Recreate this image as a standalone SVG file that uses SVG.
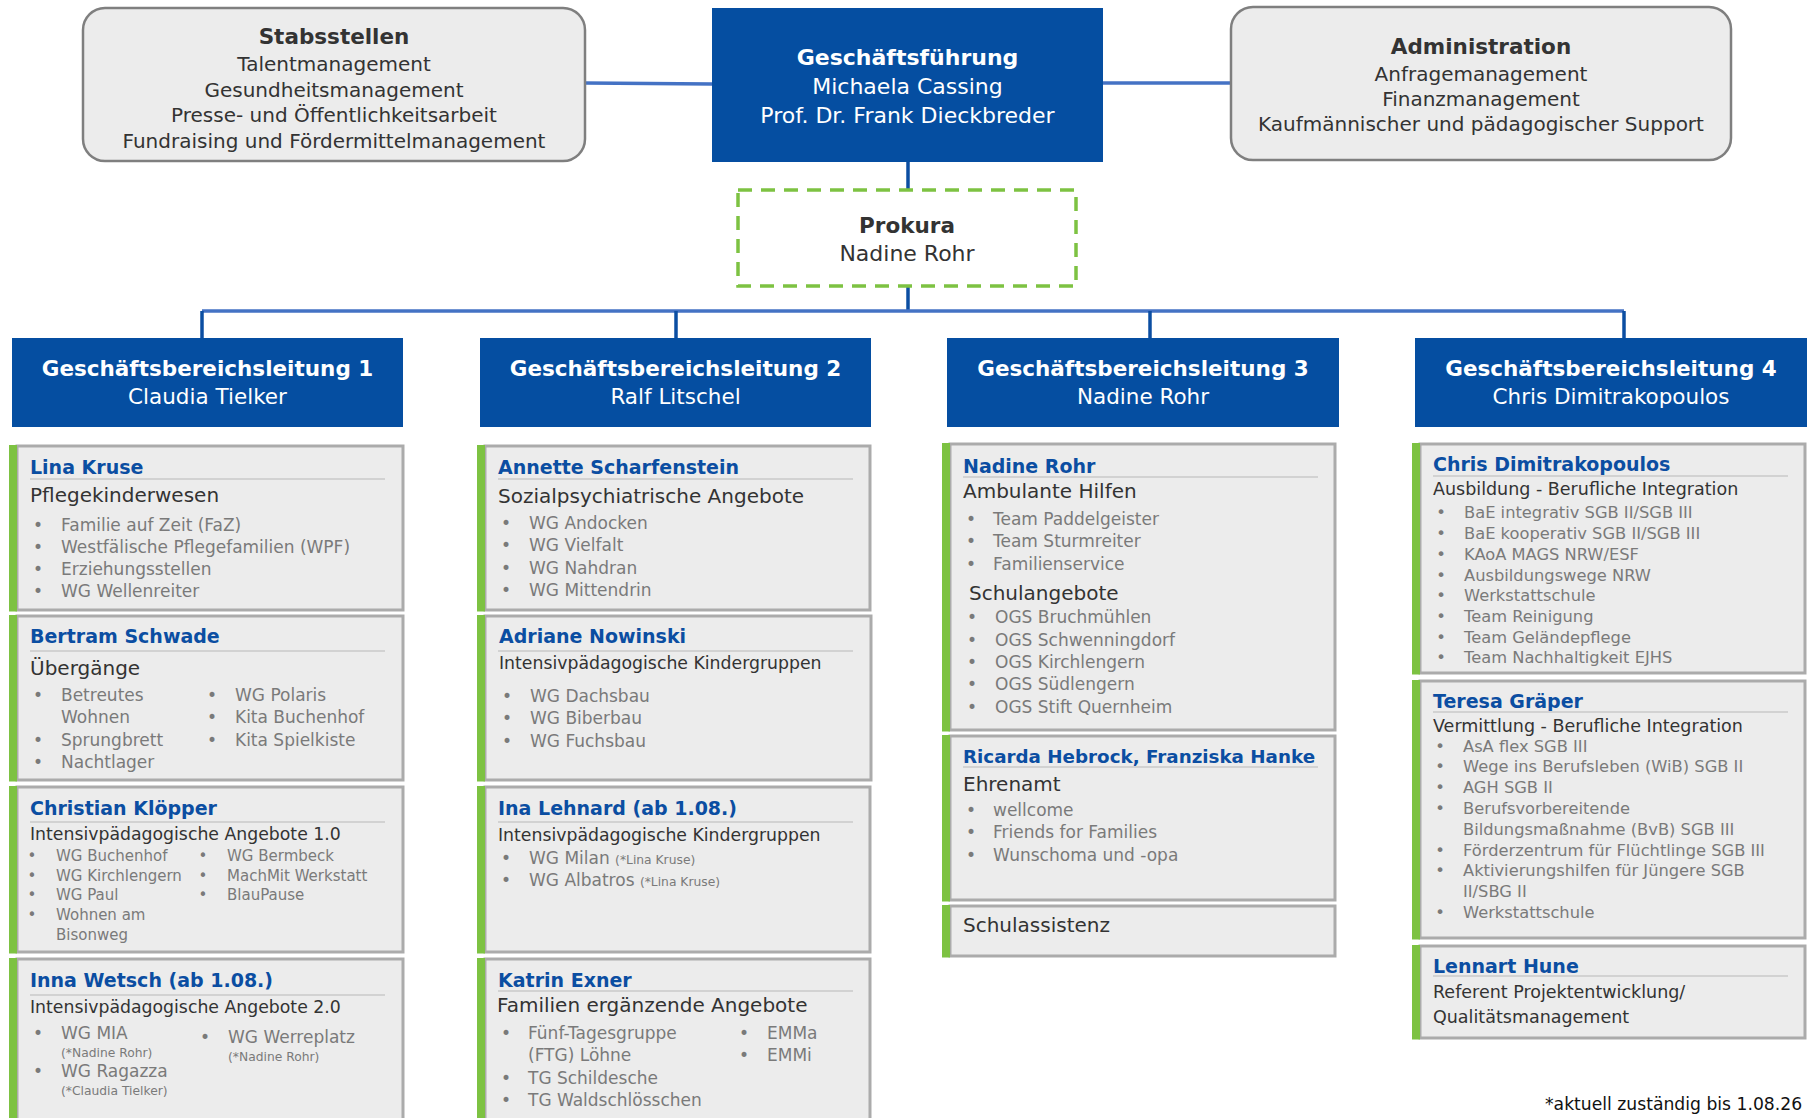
<svg xmlns="http://www.w3.org/2000/svg" width="1807" height="1118" viewBox="0 0 1807 1118">
<style>
text{font-family:"DejaVu Sans","Liberation Sans",sans-serif}
.hd{font-weight:bold;font-size:21.5px;fill:#333;text-anchor:middle}
.ln{font-size:20px;fill:#333;text-anchor:middle}
.gft{font-weight:bold;font-size:22px;fill:#fff;text-anchor:middle}
.gfl{font-size:22px;fill:#fff;text-anchor:middle}
.gbt{font-weight:bold;font-size:21.5px;fill:#fff;text-anchor:middle}
.gbn{font-size:21.5px;fill:#fff;text-anchor:middle}
.nm{font-weight:bold;font-size:19px;fill:#0b4ea2}
.sub{font-size:20px;fill:#333}
.subs{font-size:17.3px;fill:#333}
.bl{font-size:17px;fill:#7a7a7a}
.bls{font-size:15px;fill:#7a7a7a}
.bl4{font-size:16.3px;fill:#7a7a7a}
.dot{text-anchor:middle}
.note{font-size:12.3px;fill:#7a7a7a}
.foot{font-size:17.2px;fill:#111}
.box{fill:#ececec;stroke:#7f7f7f;stroke-width:2.5}
.blue{fill:#054ea1}
.card{fill:#ececec;stroke:#ababab;stroke-width:3}
.bar{fill:#7dc242}
.sep{stroke:#d2d2d2;stroke-width:2}
.ch{stroke:#4472c4;stroke-width:3.5;fill:none}
.cv{stroke:#0b4ea2;stroke-width:3.5;fill:none}
</style>

<g id="connectors">
<line class="ch" x1="585" y1="83" x2="712" y2="84"/>
<line class="ch" x1="1103" y1="83" x2="1231" y2="83"/>
<line class="cv" x1="908" y1="162" x2="908" y2="190"/>
<line class="cv" x1="908" y1="286" x2="908" y2="311"/>
<line class="ch" x1="202" y1="311" x2="1624" y2="311"/>
<line class="cv" x1="202" y1="311" x2="202" y2="338"/>
<line class="cv" x1="676" y1="311" x2="676" y2="338"/>
<line class="cv" x1="1150" y1="311" x2="1150" y2="338"/>
<line class="cv" x1="1624" y1="311" x2="1624" y2="338"/>
</g>

<g id="stabsstellen">
<rect class="box" x="83" y="8" width="502" height="153" rx="22"/>
<text class="hd" x="334" y="44">Stabsstellen</text>
<text class="ln" x="334" y="71">Talentmanagement</text>
<text class="ln" x="334" y="97">Gesundheitsmanagement</text>
<text class="ln" x="334" y="122">Presse- und Öffentlichkeitsarbeit</text>
<text class="ln" x="334" y="148">Fundraising und Fördermittelmanagement</text>
</g>

<g id="geschaeftsfuehrung">
<rect class="blue" x="712" y="8" width="391" height="154"/>
<text class="gft" x="907.5" y="65">Geschäftsführung</text>
<text class="gfl" x="907.5" y="94">Michaela Cassing</text>
<text class="gfl" x="907.5" y="123">Prof. Dr. Frank Dieckbreder</text>
</g>

<g id="administration">
<rect class="box" x="1231" y="7" width="500" height="153" rx="22"/>
<text class="hd" x="1481" y="54">Administration</text>
<text class="ln" x="1481" y="81">Anfragemanagement</text>
<text class="ln" x="1481" y="106">Finanzmanagement</text>
<text class="ln" x="1481" y="131">Kaufmännischer und pädagogischer Support</text>
</g>

<g id="prokura">
<rect x="738" y="190" width="338" height="96" fill="#fff" stroke="#7dc242" stroke-width="3.5" stroke-dasharray="14 9"/>
<text class="hd" x="907" y="233">Prokura</text>
<text class="ln" x="907" y="261" style="font-size:22px">Nadine Rohr</text>
</g>

<g id="gbl1">
<rect class="blue" x="12" y="338" width="391" height="89"/>
<text class="gbt" x="207.5" y="376">Geschäftsbereichsleitung 1</text>
<text class="gbn" x="207.5" y="404">Claudia Tielker</text>
</g>
<g id="gbl2">
<rect class="blue" x="480" y="338" width="391" height="89"/>
<text class="gbt" x="675.5" y="376">Geschäftsbereichsleitung 2</text>
<text class="gbn" x="675.5" y="404">Ralf Litschel</text>
</g>
<g id="gbl3">
<rect class="blue" x="947" y="338" width="392" height="89"/>
<text class="gbt" x="1143" y="376">Geschäftsbereichsleitung 3</text>
<text class="gbn" x="1143" y="404">Nadine Rohr</text>
</g>
<g id="gbl4">
<rect class="blue" x="1415" y="338" width="392" height="89"/>
<text class="gbt" x="1611" y="376">Geschäftsbereichsleitung 4</text>
<text class="gbn" x="1611" y="404">Chris Dimitrakopoulos</text>
</g>

<!-- Column 1 -->
<g id="lina-kruse">
<rect class="card" x="17" y="446" width="386" height="164"/>
<rect class="bar" x="9" y="445" width="8" height="166.5"/>
<text class="nm" x="30" y="474">Lina Kruse</text>
<line class="sep" x1="30" y1="479" x2="385" y2="479"/>
<text class="sub" x="30" y="502">Pflegekinderwesen</text>
<g class="bl">
<text class="dot" x="38" y="531">•</text><text x="61" y="531">Familie auf Zeit (FaZ)</text>
<text class="dot" x="38" y="553">•</text><text x="61" y="553">Westfälische Pflegefamilien (WPF)</text>
<text class="dot" x="38" y="575">•</text><text x="61" y="575">Erziehungsstellen</text>
<text class="dot" x="38" y="597">•</text><text x="61" y="597">WG Wellenreiter</text>
</g>
</g>

<g id="bertram-schwade">
<rect class="card" x="17" y="616" width="386" height="164"/>
<rect class="bar" x="9" y="615" width="8" height="166.5"/>
<text class="nm" x="30" y="643">Bertram Schwade</text>
<line class="sep" x1="30" y1="651" x2="385" y2="651"/>
<text class="sub" x="30" y="675">Übergänge</text>
<g class="bl">
<text class="dot" x="38" y="701">•</text><text x="61" y="701">Betreutes</text>
<text x="61" y="723">Wohnen</text>
<text class="dot" x="38" y="746">•</text><text x="61" y="746">Sprungbrett</text>
<text class="dot" x="38" y="768">•</text><text x="61" y="768">Nachtlager</text>
<text class="dot" x="212" y="701">•</text><text x="235" y="701">WG Polaris</text>
<text class="dot" x="212" y="723">•</text><text x="235" y="723">Kita Buchenhof</text>
<text class="dot" x="212" y="746">•</text><text x="235" y="746">Kita Spielkiste</text>
</g>
</g>

<g id="christian-kloepper">
<rect class="card" x="17" y="787" width="386" height="165"/>
<rect class="bar" x="9" y="786" width="8" height="167.5"/>
<text class="nm" x="30" y="815">Christian Klöpper</text>
<line class="sep" x1="30" y1="822" x2="385" y2="822"/>
<text class="subs" x="30" y="840">Intensivpädagogische Angebote 1.0</text>
<g class="bls">
<text class="dot" x="32" y="861">•</text><text x="56" y="861">WG Buchenhof</text>
<text class="dot" x="32" y="881">•</text><text x="56" y="881">WG Kirchlengern</text>
<text class="dot" x="32" y="900">•</text><text x="56" y="900">WG Paul</text>
<text class="dot" x="32" y="920">•</text><text x="56" y="920">Wohnen am</text>
<text x="56" y="940">Bisonweg</text>
<text class="dot" x="203" y="861">•</text><text x="227" y="861">WG Bermbeck</text>
<text class="dot" x="203" y="881">•</text><text x="227" y="881">MachMit Werkstatt</text>
<text class="dot" x="203" y="900">•</text><text x="227" y="900">BlauPause</text>
</g>
</g>

<g id="inna-wetsch">
<rect class="card" x="17" y="959" width="386" height="175"/>
<rect class="bar" x="9" y="958" width="8" height="170"/>
<text class="nm" x="30" y="987">Inna Wetsch (ab 1.08.)</text>
<line class="sep" x1="30" y1="995" x2="385" y2="995"/>
<text class="subs" x="30" y="1013">Intensivpädagogische Angebote 2.0</text>
<g class="bl">
<text class="dot" x="38" y="1039">•</text><text x="61" y="1039">WG MIA</text>
<text class="note" x="61" y="1057">(*Nadine Rohr)</text>
<text class="dot" x="38" y="1077">•</text><text x="61" y="1077">WG Ragazza</text>
<text class="note" x="61" y="1095">(*Claudia Tielker)</text>
<text class="dot" x="205" y="1043">•</text><text x="228" y="1043">WG Werreplatz</text>
<text class="note" x="228" y="1061">(*Nadine Rohr)</text>
</g>
</g>

<!-- Column 2 -->
<g id="annette-scharfenstein">
<rect class="card" x="485" y="446" width="385" height="164"/>
<rect class="bar" x="477" y="445" width="8" height="166.5"/>
<text class="nm" x="498" y="474">Annette Scharfenstein</text>
<line class="sep" x1="498" y1="479" x2="853" y2="479"/>
<text class="sub" x="498" y="503">Sozialpsychiatrische Angebote</text>
<g class="bl">
<text class="dot" x="506" y="529">•</text><text x="529" y="529">WG Andocken</text>
<text class="dot" x="506" y="551">•</text><text x="529" y="551">WG Vielfalt</text>
<text class="dot" x="506" y="574">•</text><text x="529" y="574">WG Nahdran</text>
<text class="dot" x="506" y="596">•</text><text x="529" y="596">WG Mittendrin</text>
</g>
</g>

<g id="adriane-nowinski">
<rect class="card" x="485" y="616" width="386" height="164"/>
<rect class="bar" x="477" y="615" width="8" height="166.5"/>
<text class="nm" x="499" y="643">Adriane Nowinski</text>
<line class="sep" x1="498" y1="651" x2="853" y2="651"/>
<text class="subs" x="499" y="669">Intensivpädagogische Kindergruppen</text>
<g class="bl">
<text class="dot" x="507" y="702">•</text><text x="530" y="702">WG Dachsbau</text>
<text class="dot" x="507" y="724">•</text><text x="530" y="724">WG Biberbau</text>
<text class="dot" x="507" y="747">•</text><text x="530" y="747">WG Fuchsbau</text>
</g>
</g>

<g id="ina-lehnard">
<rect class="card" x="485" y="787" width="385" height="165"/>
<rect class="bar" x="477" y="786" width="8" height="167.5"/>
<text class="nm" x="498" y="815">Ina Lehnard (ab 1.08.)</text>
<line class="sep" x1="498" y1="822" x2="853" y2="822"/>
<text class="subs" x="498" y="841">Intensivpädagogische Kindergruppen</text>
<g class="bl">
<text class="dot" x="506" y="864">•</text><text x="529" y="864">WG Milan <tspan class="note">(*Lina Kruse)</tspan></text>
<text class="dot" x="506" y="886">•</text><text x="529" y="886">WG Albatros <tspan class="note">(*Lina Kruse)</tspan></text>
</g>
</g>

<g id="katrin-exner">
<rect class="card" x="485" y="959" width="385" height="175"/>
<rect class="bar" x="477" y="958" width="8" height="170"/>
<text class="nm" x="498" y="987">Katrin Exner</text>
<line class="sep" x1="498" y1="991" x2="853" y2="991"/>
<text class="sub" x="497" y="1012">Familien ergänzende Angebote</text>
<g class="bl">
<text class="dot" x="506" y="1039">•</text><text x="528" y="1039">Fünf-Tagesgruppe</text>
<text x="528" y="1061">(FTG) Löhne</text>
<text class="dot" x="506" y="1084">•</text><text x="528" y="1084">TG Schildesche</text>
<text class="dot" x="506" y="1106">•</text><text x="528" y="1106">TG Waldschlösschen</text>
<text class="dot" x="744" y="1039">•</text><text x="767" y="1039">EMMa</text>
<text class="dot" x="744" y="1061">•</text><text x="767" y="1061">EMMi</text>
</g>
</g>

<!-- Column 3 -->
<g id="nadine-rohr">
<rect class="card" x="950" y="444" width="385" height="286"/>
<rect class="bar" x="942" y="443" width="8" height="288.5"/>
<text class="nm" x="963" y="473">Nadine Rohr</text>
<line class="sep" x1="963" y1="477" x2="1318" y2="477"/>
<text class="sub" x="963" y="498">Ambulante Hilfen</text>
<g class="bl">
<text class="dot" x="971" y="525">•</text><text x="993" y="525">Team Paddelgeister</text>
<text class="dot" x="971" y="547">•</text><text x="993" y="547">Team Sturmreiter</text>
<text class="dot" x="971" y="570">•</text><text x="993" y="570">Familienservice</text>
</g>
<text class="sub" x="969" y="600">Schulangebote</text>
<g class="bl">
<text class="dot" x="972" y="623">•</text><text x="995" y="623">OGS Bruchmühlen</text>
<text class="dot" x="972" y="646">•</text><text x="995" y="646">OGS Schwenningdorf</text>
<text class="dot" x="972" y="668">•</text><text x="995" y="668">OGS Kirchlengern</text>
<text class="dot" x="972" y="690">•</text><text x="995" y="690">OGS Südlengern</text>
<text class="dot" x="972" y="713">•</text><text x="995" y="713">OGS Stift Quernheim</text>
</g>
</g>

<g id="ricarda-hebrock-franziska-hanke">
<rect class="card" x="950" y="736" width="385" height="164"/>
<rect class="bar" x="942" y="735" width="8" height="166.5"/>
<text class="nm" x="963" y="763" style="font-size:18.3px">Ricarda Hebrock, Franziska Hanke</text>
<line class="sep" x1="963" y1="767" x2="1318" y2="767"/>
<text class="sub" x="963" y="791">Ehrenamt</text>
<g class="bl">
<text class="dot" x="971" y="816">•</text><text x="993" y="816">wellcome</text>
<text class="dot" x="971" y="838">•</text><text x="993" y="838">Friends for Families</text>
<text class="dot" x="971" y="861">•</text><text x="993" y="861">Wunschoma und -opa</text>
</g>
</g>

<g id="schulassistenz">
<rect class="card" x="950" y="906" width="385" height="50"/>
<rect class="bar" x="942" y="905" width="8" height="52.5"/>
<text class="sub" x="963" y="932">Schulassistenz</text>
</g>

<!-- Column 4 -->
<g id="chris-dimitrakopoulos">
<rect class="card" x="1420" y="444" width="385" height="229"/>
<rect class="bar" x="1412" y="443" width="8" height="231.5"/>
<text class="nm" x="1433" y="471">Chris Dimitrakopoulos</text>
<line class="sep" x1="1433" y1="476" x2="1788" y2="476"/>
<text class="subs" x="1433" y="495" style="font-size:17.5px">Ausbildung - Berufliche Integration</text>
<g class="bl4">
<text class="dot" x="1441" y="518">•</text><text x="1464" y="518">BaE integrativ SGB II/SGB III</text>
<text class="dot" x="1441" y="539">•</text><text x="1464" y="539">BaE kooperativ SGB II/SGB III</text>
<text class="dot" x="1441" y="560">•</text><text x="1464" y="560">KAoA MAGS NRW/ESF</text>
<text class="dot" x="1441" y="581">•</text><text x="1464" y="581">Ausbildungswege NRW</text>
<text class="dot" x="1441" y="601">•</text><text x="1464" y="601">Werkstattschule</text>
<text class="dot" x="1441" y="622">•</text><text x="1464" y="622">Team Reinigung</text>
<text class="dot" x="1441" y="643">•</text><text x="1464" y="643">Team Geländepflege</text>
<text class="dot" x="1441" y="663">•</text><text x="1464" y="663">Team Nachhaltigkeit EJHS</text>
</g>
</g>

<g id="teresa-graeper">
<rect class="card" x="1420" y="681" width="385" height="257"/>
<rect class="bar" x="1412" y="680" width="8" height="259.5"/>
<text class="nm" x="1433" y="708">Teresa Gräper</text>
<line class="sep" x1="1433" y1="712" x2="1788" y2="712"/>
<text class="subs" x="1433" y="732" style="font-size:17.5px">Vermittlung - Berufliche Integration</text>
<g class="bl4">
<text class="dot" x="1440" y="752">•</text><text x="1463" y="752">AsA flex SGB III</text>
<text class="dot" x="1440" y="772">•</text><text x="1463" y="772">Wege ins Berufsleben (WiB) SGB II</text>
<text class="dot" x="1440" y="793">•</text><text x="1463" y="793">AGH SGB II</text>
<text class="dot" x="1440" y="814">•</text><text x="1463" y="814">Berufsvorbereitende</text>
<text x="1463" y="835">Bildungsmaßnahme (BvB) SGB III</text>
<text class="dot" x="1440" y="856">•</text><text x="1463" y="856">Förderzentrum für Flüchtlinge SGB III</text>
<text class="dot" x="1440" y="876">•</text><text x="1463" y="876">Aktivierungshilfen für Jüngere SGB</text>
<text x="1463" y="897">II/SBG II</text>
<text class="dot" x="1440" y="918">•</text><text x="1463" y="918">Werkstattschule</text>
</g>
</g>

<g id="lennart-hune">
<rect class="card" x="1420" y="946" width="385" height="92"/>
<rect class="bar" x="1412" y="945" width="8" height="94.5"/>
<text class="nm" x="1433" y="973">Lennart Hune</text>
<line class="sep" x1="1433" y1="976" x2="1788" y2="976"/>
<text class="subs" x="1433" y="998" style="font-size:17.5px">Referent Projektentwicklung/</text>
<text class="subs" x="1433" y="1023" style="font-size:17.5px">Qualitätsmanagement</text>
</g>

<g id="footnote">
<text class="foot" x="1545" y="1110">*aktuell zuständig bis 1.08.26</text>
</g>
</svg>
